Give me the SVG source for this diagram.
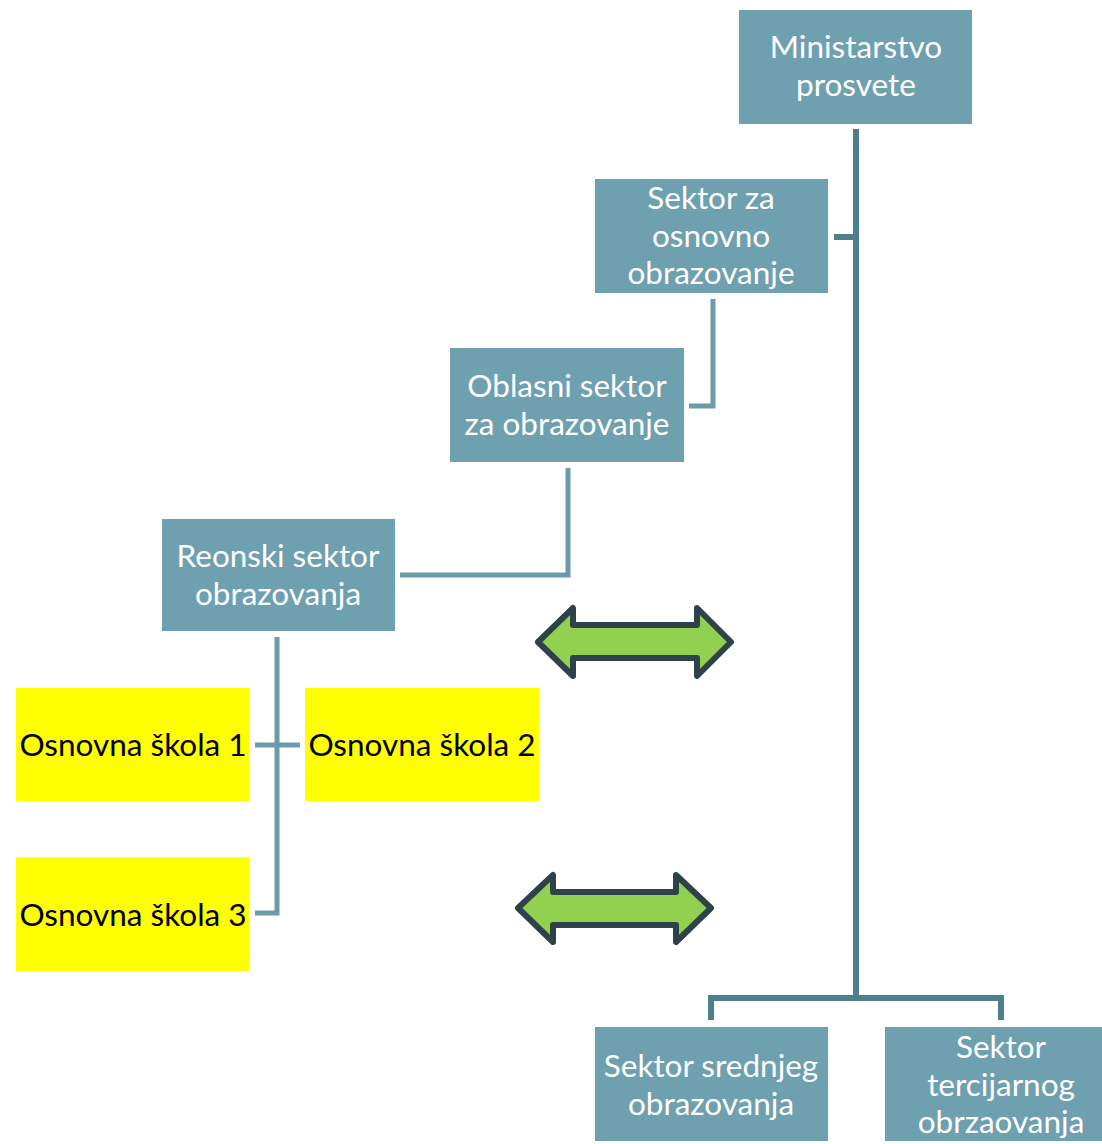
<svg xmlns="http://www.w3.org/2000/svg" width="1102" height="1144" viewBox="0 0 1102 1144">
<style>
.box{fill:#6FA0B0}
.ybox{fill:#FFFF00}
.t{font-family:Lato,"Liberation Sans",sans-serif;font-size:31.5px;fill:#FFFFFF;text-anchor:middle}
.tb{font-family:Lato,"Liberation Sans",sans-serif;font-size:31.5px;fill:#000000;text-anchor:middle}
.main{stroke:#4F7F8B;stroke-width:6;fill:none}
.sub{stroke:#6B9AA8;stroke-width:5;fill:none}
.arr{fill:#92D050;stroke:#2D4249;stroke-width:6;stroke-linejoin:round}
</style>
<rect width="1102" height="1144" fill="#FFFFFF"/>
<g id="connectors">
<path class="main" d="M856,129 V998"/>
<path class="main" d="M834,237 H856"/>
<path class="main" d="M711,1020 V998 H1001 V1020"/>
<path class="sub" d="M713,299 V406 H689"/>
<path class="sub" d="M568,468 V575 H400"/>
<path class="sub" d="M277,637 V913 H255"/>
<path class="sub" d="M255,745 H300"/>
</g>
<g id="ministarstvo">
<rect class="box" x="739" y="10" width="233" height="114"/>
<text class="t" x="856" y="58">Ministarstvo</text>
<text class="t" x="856" y="96">prosvete</text>
</g>
<g id="sektor-osnovno">
<rect class="box" x="595" y="179" width="233" height="114"/>
<text class="t" x="711" y="209">Sektor za</text>
<text class="t" x="711" y="247">osnovno</text>
<text class="t" x="711" y="284">obrazovanje</text>
</g>
<g id="oblasni">
<rect class="box" x="450" y="348" width="234" height="114"/>
<text class="t" x="567" y="397">Oblasni sektor</text>
<text class="t" x="567" y="435">za obrazovanje</text>
</g>
<g id="reonski">
<rect class="box" x="162" y="519" width="233" height="112"/>
<text class="t" x="278" y="567">Reonski sektor</text>
<text class="t" x="278" y="605">obrazovanja</text>
</g>
<g id="skola1">
<rect class="ybox" x="16" y="688" width="233" height="113"/>
<text class="tb" x="133" y="756">Osnovna škola 1</text>
</g>
<g id="skola2">
<rect class="ybox" x="305" y="688" width="234" height="113"/>
<text class="tb" x="422" y="756">Osnovna škola 2</text>
</g>
<g id="skola3">
<rect class="ybox" x="16" y="857" width="233" height="114"/>
<text class="tb" x="133" y="926">Osnovna škola 3</text>
</g>
<g id="sektor-srednjeg">
<rect class="box" x="595" y="1027" width="233" height="114"/>
<text class="t" x="711" y="1077">Sektor srednjeg</text>
<text class="t" x="711" y="1115">obrazovanja</text>
</g>
<g id="sektor-tercijarnog">
<rect class="box" x="885" y="1027" width="233" height="114"/>
<text class="t" x="1001" y="1058">Sektor</text>
<text class="t" x="1001" y="1096">tercijarnog</text>
<text class="t" x="1001" y="1133">obrzaovanja</text>
</g>
<g id="arrow1">
<path class="arr" d="M538,642 L573,608 V625 H697 V608 L731,642 L697,676 V658 H573 V676 Z"/>
</g>
<g id="arrow2">
<path class="arr" d="M518,908 L553,875 V892 H676 V875 L711,908 L676,942 V925 H553 V942 Z"/>
</g>
</svg>
